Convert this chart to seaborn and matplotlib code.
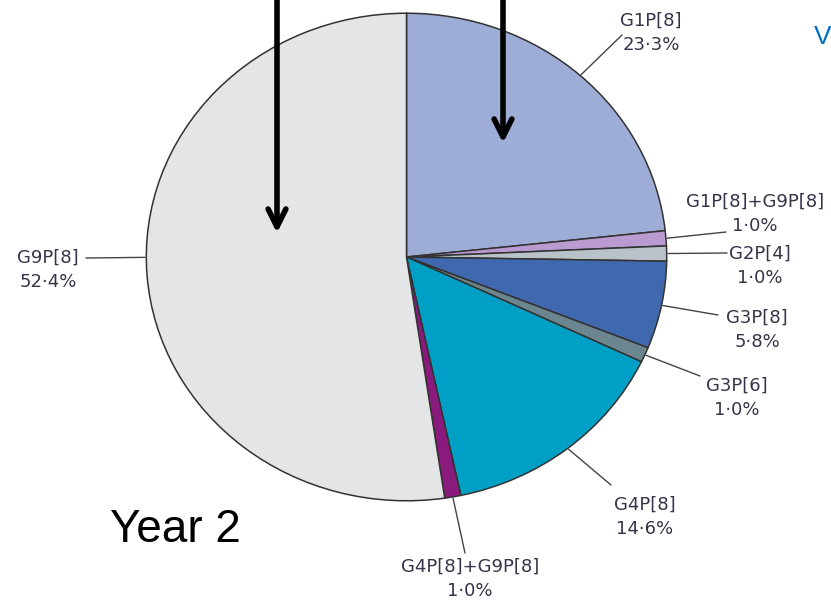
import numpy as np
import matplotlib
matplotlib.use("Agg")
from matplotlib import pyplot as plt
import seaborn as sns

sns.set_theme(style="white")
plt.rcParams['font.family'] = ['DejaVu Sans']

# data (clockwise from 12 o'clock)
genotypes = ['G1P[8]', 'G1P[8]+G9P[8]', 'G2P[4]', 'G3P[8]', 'G3P[6]',
             'G4P[8]', 'G4P[8]+G9P[8]', 'G9P[8]']
shares = [23.3, 1.0, 1.0, 5.8, 1.0, 14.6, 1.0, 52.4]
pct_labels = ['23·3%', '1·0%', '1·0%', '5·8%', '1·0%', '14·6%', '1·0%', '52·4%']
colors = ['#9dadd6', '#b99bd2', '#b8c2c8', '#3f68ae', '#6c868f',
          '#00a0c6', '#8a1a7d', '#e4e5e7']

# where each label sits (pixels, top-left origin), its leader-line end,
# and where along the wedge the leader starts (0..1)
label_pos = [(651, 33), (755, 214), (760, 266), (757, 330), (737, 398),
             (645, 517), (470, 579), (48, 270)]
leader_end = [(622, 35), (726, 232), (727, 253), (718, 315), (700, 376),
              (611, 485), (465, 553), (86, 258)]
leader_frac = [0.5, 0.5, 0.5, 0.5, 0.5, 0.5, 0.5, 0.478]

W, H = 831, 600
fig = plt.figure(figsize=(W / 100, H / 100), dpi=100)

# pie box (slightly wider than tall, as in the reference)
px0, py0, pw, ph = 145, 12, 523, 490
pie_ax = fig.add_axes([px0 / W, 1 - (py0 + ph) / H, pw / W, ph / H])
wedges, _ = pie_ax.pie(shares, colors=colors, startangle=90, counterclock=False,
                       radius=1, wedgeprops=dict(edgecolor='#333333', linewidth=1.1))
pie_ax.set_xlim(-1.005, 1.005)
pie_ax.set_ylim(-1.005, 1.005)
pie_ax.set_aspect('auto')
pie_ax.axis('off')

# overlay in pixel coordinates, on top of the pie
over = fig.add_axes([0, 0, 1, 1], zorder=5)
over.set_xlim(0, W)
over.set_ylim(H, 0)
over.patch.set_alpha(0)
over.axis('off')

cx, cy = px0 + pw / 2, py0 + ph / 2
rx, ry = pw / 2, ph / 2
for w, name, pct, (tx, ty), (ex, ey), fr in zip(wedges, genotypes, pct_labels,
                                                 label_pos, leader_end, leader_frac):
    ang = np.deg2rad(w.theta1 + fr * (w.theta2 - w.theta1))
    sx, sy = cx + rx * np.cos(ang), cy - ry * np.sin(ang)
    over.plot([sx, ex], [sy, ey], color='#444444', lw=1.0, zorder=3)
    over.text(tx, ty, name + '\n' + pct, ha='center', va='center',
              fontsize=13, color='#34344a', linespacing=1.4, zorder=4)

# arrows
for ax_x, tip in [(277, 233), (503, 143)]:
    over.annotate('', xy=(ax_x, tip), xytext=(ax_x, -5),
                  arrowprops=dict(arrowstyle='->', lw=4, color='black',
                                  mutation_scale=32, shrinkA=0, shrinkB=0),
                  zorder=5)

over.text(175, 530, 'Year 2', ha='center', va='center', fontsize=33,
          family=['Liberation Sans', 'DejaVu Sans'], color='black')
over.text(814, 37, 'V', ha='left', va='center', fontsize=19,
          family=['Liberation Sans', 'DejaVu Sans'], color='#0070c0')

fig.savefig('out.png', dpi=100)
